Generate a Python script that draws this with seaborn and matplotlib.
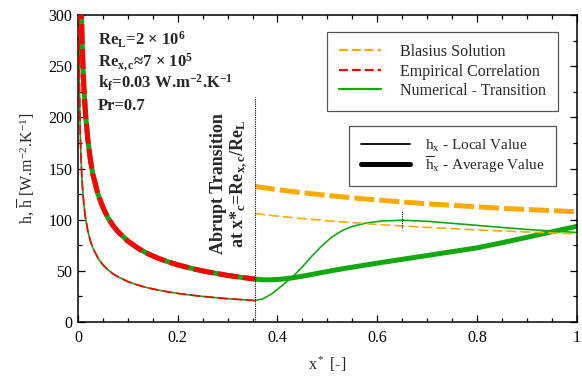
import numpy as np
import pandas as pd
import matplotlib
matplotlib.use("Agg")
import matplotlib.pyplot as plt
from matplotlib.lines import Line2D
from matplotlib.ticker import MultipleLocator, FixedLocator, FixedFormatter
import seaborn as sns

# ---------------- data ----------------
x_lam = [0.0015, 0.002, 0.003, 0.004, 0.005, 0.006, 0.007, 0.008, 0.01, 0.012,
         0.015, 0.02, 0.025, 0.03, 0.04, 0.05, 0.06, 0.07, 0.08, 0.1,
         0.12, 0.14, 0.16, 0.18, 0.2, 0.23, 0.26, 0.3, 0.33, 0.355]
h_local_lam = [322.7, 279.5, 228.2, 197.6, 176.8, 161.4, 149.4, 139.8, 125.0, 114.1,
               102.1, 88.4, 79.1, 72.2, 62.5, 55.9, 51.0, 47.2, 44.2, 39.5,
               36.1, 33.4, 31.3, 29.5, 28.0, 26.1, 24.5, 22.8, 21.8, 21.0]
h_avg_lam = [645, 559, 456, 395, 354, 323, 299, 280, 250, 228,
             204, 177, 158, 144, 125, 112, 102, 94.5, 88.4, 79.1,
             72.2, 66.8, 62.5, 58.9, 55.9, 52.1, 49.0, 45.6, 43.5, 42.0]

x_tr = [0.355, 0.37, 0.39, 0.41, 0.43, 0.45, 0.47, 0.49, 0.51, 0.53, 0.55,
        0.58, 0.61, 0.65, 0.7, 0.75, 0.8, 0.85, 0.9, 0.95, 1.0]
h_num_local_tr = [21.0, 22.5, 28, 36, 44, 54, 65, 75, 83.5, 89.5, 93.5,
                  97, 98.8, 99.5, 98.5, 96.5, 94.5, 92.5, 90.5, 89, 87.5]
h_num_avg_tr = [42.0, 41.3, 41.3, 42.0, 43.2, 44.8, 46.6, 48.5, 50.3, 52.0, 53.6,
                56.0, 58.3, 61.3, 65.0, 68.8, 72.5, 77.5, 82.8, 88.2, 93.5]

x_turb = [0.355, 0.4, 0.45, 0.5, 0.55, 0.6, 0.65, 0.7, 0.75, 0.8, 0.85, 0.9, 0.95, 1.0]
h_blas_local = [106.0, 103.5, 101.1, 99.0, 97.1, 95.4, 93.9, 92.5, 91.3, 90.1, 89.0, 88.0, 87.1, 86.2]
h_blas_avg = [132.5, 129.4, 126.4, 123.8, 121.4, 119.3, 117.4, 115.6, 114.1, 112.6, 111.2, 110.0, 108.9, 107.8]

x_crit = 0.355
x_peak = 0.65

x_tick_vals = [0, 0.2, 0.4, 0.6, 0.8, 1.0]
x_tick_labels = ["0", "0.2", "0.4", "0.6", "0.8", "1"]
y_tick_vals = [0, 50, 100, 150, 200, 250, 300]
y_tick_labels = ["0", "50", "100", "150", "200", "250", "300"]

legend1_labels = ["Blasius Solution", "Empirical Correlation", "Numerical - Transition"]
legend2_labels = [r"h$_\mathrm{x}$ - Local Value", r"$\overline{\mathrm{h}}_\mathrm{x}$ - Average Value"]

# ---------------- style ----------------
sns.set_style("ticks")
plt.rcParams["font.family"] = ["Liberation Serif", "DejaVu Serif"]
plt.rcParams["mathtext.fontset"] = "custom"
plt.rcParams["mathtext.rm"] = "Liberation Serif"
plt.rcParams["mathtext.it"] = "Liberation Serif:italic"
plt.rcParams["mathtext.bf"] = "Liberation Serif:bold"

ORANGE = "#FFAA00"
RED = "#FF0000"
GREEN = "#12A812"

fig = plt.figure(figsize=(5.82, 3.76), dpi=100)
ax = fig.add_axes([0.134, 0.1436, 0.857, 0.816])

x_num = x_lam + x_tr[1:]
h_num_local = h_local_lam + h_num_local_tr[1:]
h_num_avg = h_avg_lam + h_num_avg_tr[1:]

df_num = pd.DataFrame({"x": x_num, "loc": h_num_local, "avg": h_num_avg})
df_lam = pd.DataFrame({"x": x_lam, "loc": h_local_lam, "avg": h_avg_lam})
df_turb = pd.DataFrame({"x": x_turb, "loc": h_blas_local, "avg": h_blas_avg})

THIN = 1.2
THICK = 3.6

# green numerical (bottom)
sns.lineplot(data=df_num, x="x", y="loc", ax=ax, color=GREEN, lw=THIN, legend=False, zorder=2)
sns.lineplot(data=df_num, x="x", y="avg", ax=ax, color=GREEN, lw=THICK, legend=False, zorder=2)
# orange blasius
sns.lineplot(data=df_turb, x="x", y="loc", ax=ax, color=ORANGE, lw=THIN,
             linestyle=(0, (6, 2.4)), legend=False, zorder=3)
sns.lineplot(data=df_turb, x="x", y="avg", ax=ax, color=ORANGE, lw=THICK,
             linestyle=(0, (4, 1)), legend=False, zorder=3)
# red empirical
sns.lineplot(data=df_lam, x="x", y="loc", ax=ax, color=RED, lw=THIN,
             linestyle=(0, (6, 2.4)), legend=False, zorder=4)
sns.lineplot(data=df_lam, x="x", y="avg", ax=ax, color=RED, lw=THICK,
             linestyle=(0, (4, 1)), legend=False, zorder=4)

# dotted vertical markers
ax.plot([x_crit, x_crit], [0, 220], color="black", lw=0.8, ls=(0, (1, 1)), zorder=5)
ax.plot([x_peak, x_peak], [92, 110], color="black", lw=0.8, ls=(0, (1, 1)), zorder=5)

ax.set_xlim(0, 1)
ax.set_ylim(0, 300)
ax.xaxis.set_major_locator(FixedLocator(x_tick_vals))
ax.xaxis.set_major_formatter(FixedFormatter(x_tick_labels))
ax.yaxis.set_major_locator(FixedLocator(y_tick_vals))
ax.yaxis.set_major_formatter(FixedFormatter(y_tick_labels))
ax.xaxis.set_minor_locator(MultipleLocator(0.05))
ax.yaxis.set_minor_locator(MultipleLocator(25))
ax.tick_params(which="both", direction="in", top=True, right=True, colors="black",
               labelsize=11.5, width=0.9)
ax.tick_params(which="major", length=5)
ax.tick_params(which="minor", length=3)
ax.tick_params(axis="x", pad=6)
ax.tick_params(axis="y", pad=4)
for s in ax.spines.values():
    s.set_linewidth(1.1)
    s.set_color("black")

ax.set_xlabel(r"x$^*$ [-]", fontsize=11.5, labelpad=6)
ax.set_ylabel(r"h, $\overline{\mathrm{h}}$ [W.m$^{-2}$.K$^{-1}$]", fontsize=11.5, labelpad=8)

# parameter text
params = [r"Re$_\mathbf{L}$=2 × 10$^\mathbf{6}$",
          r"Re$_\mathbf{x,c}$≈7 × 10$^\mathbf{5}$",
          r"k$_\mathbf{f}$=0.03 W.m$^\mathbf{-2}$.K$^\mathbf{-1}$",
          "Pr=0.7"]
for i, t in enumerate(params):
    ax.text(0.04, 0.902 - i * 0.0705, t, transform=ax.transAxes, fontsize=12,
            fontweight="bold", ha="left", va="baseline", zorder=6)

ax.text(0.3046, 135, "Abrupt Transition\n" + r"at x*$_\mathbf{c}$=Re$_\mathbf{x,c}$/Re$_\mathbf{L}$",
        rotation=90, fontsize=13, fontweight="bold", ha="center", va="center",
        multialignment="center", linespacing=1.15, zorder=6)

# legends
h1 = [Line2D([], [], color=ORANGE, lw=1.6, ls=(0, (4, 1.8))),
      Line2D([], [], color=RED, lw=1.6, ls=(0, (4, 1.8))),
      Line2D([], [], color=GREEN, lw=1.6)]
leg1 = ax.legend(h1, legend1_labels, loc="upper right", bbox_to_anchor=(0.962, 0.945),
                 fontsize=11.5, frameon=True, fancybox=False, edgecolor="#555555",
                 handlelength=2.6, handletextpad=1.2, labelspacing=0.22,
                 borderpad=0.75, borderaxespad=0, framealpha=1)
leg1.get_frame().set_linewidth(0.9)
ax.add_artist(leg1)

h2 = [Line2D([], [], color="black", lw=1.3),
      Line2D([], [], color="black", lw=3.6)]
leg2 = ax.legend(h2, legend2_labels, loc="upper right", bbox_to_anchor=(0.958, 0.638),
                 fontsize=11, frameon=True, fancybox=False, edgecolor="#555555",
                 handlelength=3.2, handletextpad=1.0, labelspacing=0.0,
                 borderpad=0.75, borderaxespad=0, framealpha=1)
leg2.get_frame().set_linewidth(0.9)

fig.savefig("out.png", dpi=100)
